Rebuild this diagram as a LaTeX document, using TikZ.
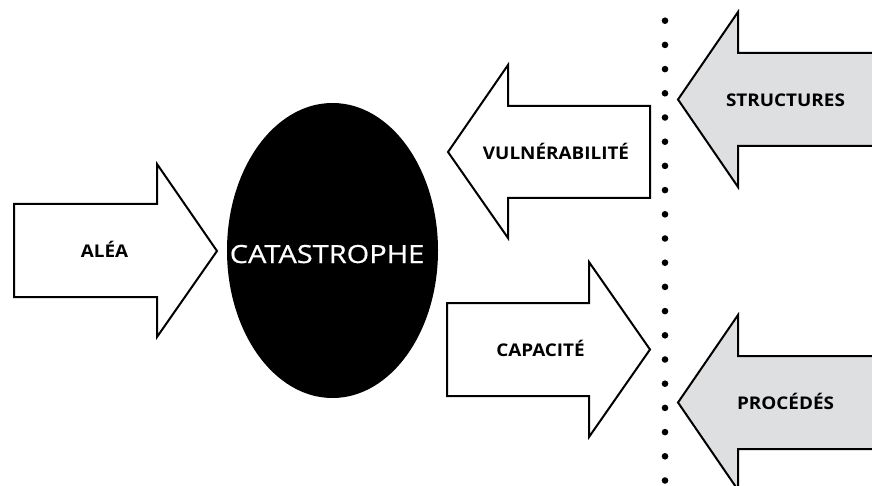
\documentclass[tikz,border=0pt]{standalone}
\usepackage{fontspec}
\setmainfont{Open Sans}
\newfontfamily\labelfont[FakeStretch=1.08]{Open Sans}
\newfontfamily\titlefont[FakeStretch=1.16,FakeBold=0.6]{Open Sans}
\begin{document}
\begin{tikzpicture}[x=1pt,y=-1pt,
  outline/.style={draw=black,line width=2pt,line join=miter},
  plainfill/.style={outline,fill=white},
  greyfill/.style={outline,fill=paleGrey},
  lbl/.style={font=\labelfont\fontsize{17.5}{19}\selectfont\bfseries,
    anchor=base,inner sep=0pt},
  dot/.style={fill=black,draw=none}]
\definecolor{paleGrey}{RGB}{222,223,225}
\useasboundingbox (0,0) rectangle (872,486);
\clip (0,0) rectangle (872,486);

% hazard arrow pointing into the ellipse
\draw[plainfill] (14,204) -- (157,204) -- (157,164) -- (217,251) -- (157,337)
  -- (157,297) -- (14,297) -- cycle;
\node[lbl] (alea) at (104.5,257.5) {ALÉA};

% central event
\fill (332.5,250.5) ellipse [x radius=105.5, y radius=147.5];
\node[font=\titlefont\fontsize{25}{28}\selectfont,
  text=white,anchor=base,inner sep=0pt] (cata) at (327,263) {CATASTROPHE};

% vulnerability arrow pointing left
\draw[plainfill] (650,106) -- (508,106) -- (508,65) -- (448,152) -- (508,238)
  -- (508,198) -- (650,198) -- cycle;
\node[lbl] (vuln) at (556,160) {VULNÉRABILITÉ};

% capacity arrow pointing right
\draw[plainfill] (447,303) -- (589,303) -- (589,262) -- (650,349.5) -- (589,437)
  -- (589,396) -- (447,396) -- cycle;
\node[lbl] (capa) at (540.5,356) {CAPACITÉ};

% dotted separator
\foreach \k in {0,...,19}
  \fill[dot] (665,20.7+24.2*\k) circle [radius=3.3];

% structural factors
\draw[greyfill] (890,53) -- (738,53) -- (738,12) -- (678,99.5) -- (738,187)
  -- (738,146) -- (890,146) -- cycle;
\node[lbl] (struct) at (785.5,106.7) {STRUCTURES};

% procedural factors
\draw[greyfill] (890,356) -- (738,356) -- (738,315) -- (678,402.5) -- (738,490)
  -- (738,449) -- (890,449) -- cycle;
\node[lbl] (proc) at (785.5,409) {PROCÉDÉS};
\end{tikzpicture}
\end{document}
